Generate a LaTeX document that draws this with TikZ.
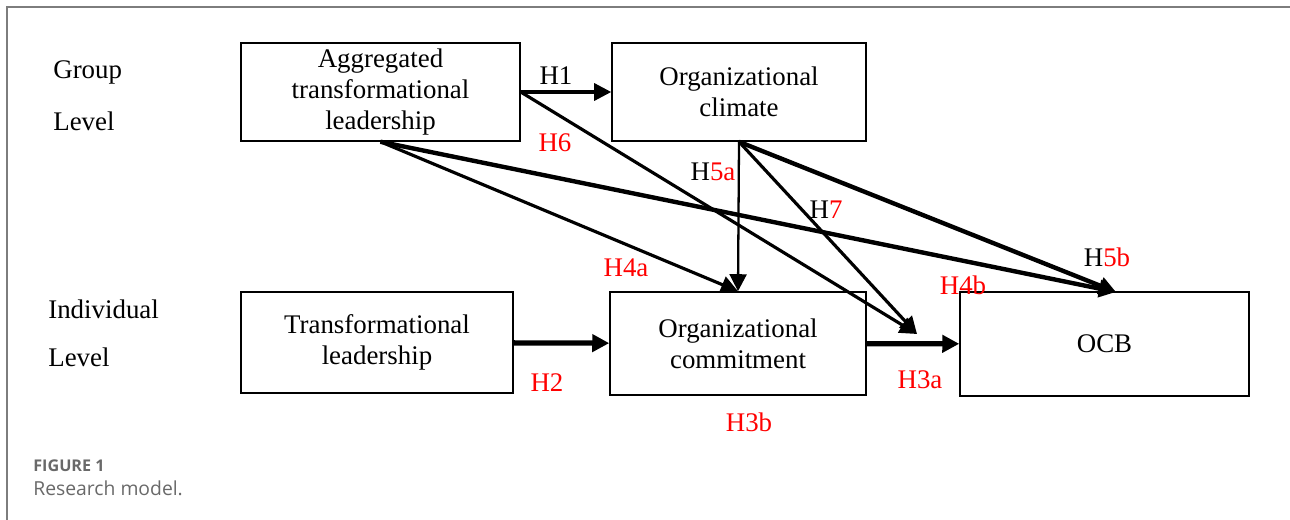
\documentclass[tikz,border=0pt]{standalone}
\usepackage{fontspec}
\setmainfont{Liberation Serif}
\newfontfamily\capfont{Open Sans}
\usetikzlibrary{positioning,arrows.meta,calc}
\definecolor{framegray}{RGB}{125,125,125}
\definecolor{capgray}{RGB}{105,105,105}
\tikzset{
  cons/.style={draw,line width=0.9pt,inner sep=0pt,align=center,
    font=\rmfamily\fontsize{15.3}{17.8}\selectfont},
  lvl/.style={anchor=west,inner sep=0pt,font=\rmfamily\fontsize{15.3}{17.8}\selectfont},
  hyp/.style={inner sep=0pt,text=red,font=\rmfamily\fontsize{15.3}{17.8}\selectfont},
  eff/.style={-{Triangle[length=0.34cm,width=0.34cm]},line width=1.8pt},
  effbold/.style={eff,line width=2.5pt},
  effheavy/.style={eff,line width=3pt},
}

\begin{document}
\begin{tikzpicture}[x=0.02cm,y=-0.02cm]
  \useasboundingbox (0,0) rectangle (1290,520);
  \draw[framegray,line width=1.2pt] (1290,7) -- (7,7) -- (7,520);

  \node[lvl] (grp) at (53,72) {Group};
  \node[lvl] (grplvl) at (53,121) {Level};
  \node[lvl] (ind) at (48,309) {Individual};
  \node[lvl] (indlvl) at (48,357) {Level};

  \node[cons,minimum width=5.58cm,minimum height=1.96cm] (atl) at (380.5,92)
    {Aggregated\\transformational\\leadership};
  \node[cons,minimum width=5.08cm,minimum height=1.96cm] (clim) at (739,92)
    {Organizational\\climate};
  \node[cons,minimum width=5.44cm,minimum height=2.02cm] (tl) at (377,342.5)
    {Transformational\\leadership};
  \node[cons,minimum width=5.12cm,minimum height=2.06cm] (oc) at (738,343.5)
    {Organizational\\commitment};
  \node[cons,minimum width=5.78cm,minimum height=2.08cm] (ocb) at (1104.5,344)
    {OCB};

  \coordinate (med) at (917,334);
  \coordinate (ocbin) at (1116,292);

  \draw[eff] (atl) -- (clim);
  \draw[effheavy] (tl) -- (oc);
  \draw[effheavy] (oc) -- (ocb);
  \draw[eff] (atl.east) -- (med);
  \draw[eff] (atl.south) -- (oc.north);
  \draw[effbold] (atl.south) -- (ocbin);
  \draw[eff,line width=1.3pt] (clim.south) -- (oc.north);
  \draw[eff] (clim.south) -- (med);
  \draw[effbold] (clim.south) -- (ocbin);

  \node[hyp,text=black] (h1) at (556,76) {H1};
  \node[hyp] (h6) at (555,143) {H6};
  \node[hyp,text=black] (h5a) at (713,172) {H\textcolor{red}{5a}};
  \node[hyp,text=black] (h7) at (826,210) {H\textcolor{red}{7}};
  \node[hyp] (h4a) at (626,268) {H4a};
  \node[hyp] (h4b) at (963,285) {H4b};
  \node[hyp,text=black] (h5b) at (1107,257) {H\textcolor{red}{5b}};
  \node[hyp] (h2) at (547,383) {H2};
  \node[hyp] (h3a) at (920,380) {H3a};
  \node[hyp] (h3b) at (749,422) {H3b};

  \node[anchor=west,inner sep=0pt,text=capgray,font=\capfont\fontsize{9.2}{11}\selectfont\bfseries]
    (fig) at (33,466) {FIGURE 1};
  \node[anchor=west,inner sep=0pt,text=capgray,font=\capfont\fontsize{11}{13}\selectfont]
    (cap) at (33,488) {Research model.};
\end{tikzpicture}
\end{document}
